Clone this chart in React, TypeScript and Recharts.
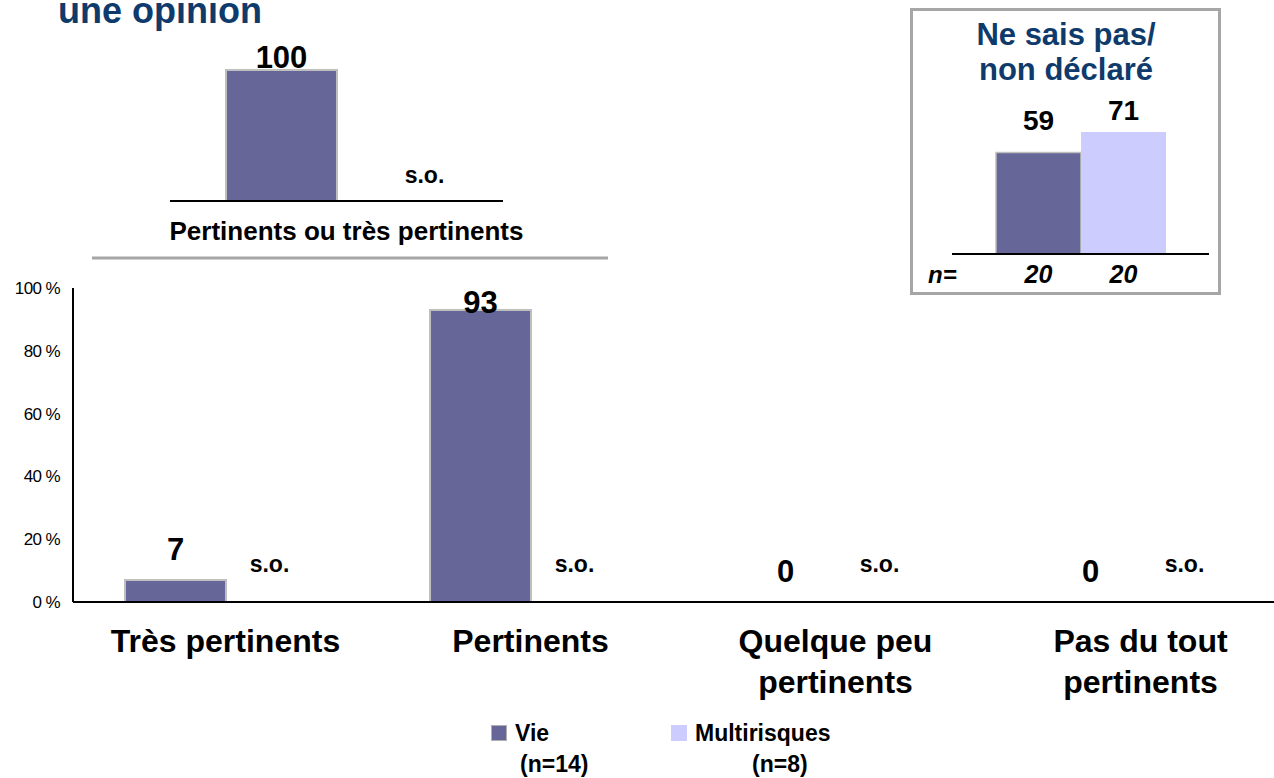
import React from "react";
import { BarChart, Bar, XAxis, YAxis, LabelList, Legend, Cell } from "recharts";

// main chart: share of respondents per rating
const categories = ["Très pertinents", "Pertinents", "Quelque peu pertinents", "Pas du tout pertinents"];
const vieValues = [7, 93, 0, 0];
const multiValues: (number | null)[] = [null, null, null, null]; // null = s.o.
const yTicks = [0, 20, 40, 60, 80, 100];

// small summary chart on top
const topCategory = ["Pertinents ou très pertinents"];
const topVie = [100];
const topMulti: (number | null)[] = [null];

// boxed "don't know" chart
const boxCategory = ["Ne sais pas/ non déclaré"];
const boxVie = [59];
const boxMulti = [71];
const boxN = [20, 20];

const seriesNames = ["Vie", "Multirisques"];
const seriesN = ["(n=14)", "(n=8)"];

const VIE = "#666699";
const MULTI = "#CCCCFF";
const NAVY = "#0f3b6c";
const GREY = "#a6a6a6";
const FONT = '"Liberation Sans", Arial, Helvetica, sans-serif';

const toRows = (cats: string[], vie: number[], multi: (number | null)[]) =>
  cats.map((name, i) => ({
    name,
    vie: vie[i],
    vieLabel: String(vie[i]),
    multi: multi[i] ?? 0,
    multiLabel: multi[i] == null ? "s.o." : String(multi[i]),
  }));

const mainData = toRows(categories, vieValues, multiValues);
const topData = toRows(topCategory, topVie, topMulti);
const boxData = boxCategory.map((name, i) => ({
  name,
  vie: boxVie[i],
  vieLabel: String(boxVie[i]),
  multi: boxMulti[i],
  multiLabel: String(boxMulti[i]),
  vieN: boxN[0],
  multiN: boxN[1],
}));

// value above a bar, pushed down when it would leave the plot
const valueLabel = (gap: number, floor: number, size: number, dx = 0, soGap = 0, soSize = 23) => (p: any) => {
  const x = Number(p.x);
  const y = Number(p.y);
  const w = Number(p.width);
  const h = Number(p.height);
  const v = String(p.value);
  const cx = x + w / 2;
  const base = y + h; // bottom of the bar = zero line
  if (v === "s.o.") {
    return (
      <text x={cx + dx} y={base - soGap} textAnchor="middle" fontFamily={FONT} fontWeight="bold" fontSize={soSize} fill="#000">
        {v}
      </text>
    );
  }
  const top = v === "0" ? base : y;
  return (
    <text x={cx} y={Math.max(top - gap, floor)} textAnchor="middle" fontFamily={FONT} fontWeight="bold" fontSize={size} fill="#000">
      {v}
    </text>
  );
};

const nLabel = (p: any) => {
  const x = Number(p.x);
  const y = Number(p.y);
  const w = Number(p.width);
  const h = Number(p.height);
  return (
    <text x={x + w / 2} y={y + h + 29} textAnchor="middle" fontFamily={FONT} fontWeight="bold" fontStyle="italic" fontSize={25} fill="#000">
      {p.value}
    </text>
  );
};

const CategoryTick = (p: any) => {
  const words = String(p.payload.value).split(" ");
  const lines = words.length > 2 ? [words.slice(0, -1).join(" "), words[words.length - 1]] : [words.join(" ")];
  return (
    <text x={p.x} y={Number(p.y) + 50} textAnchor="middle" fontFamily={FONT} fontWeight="bold" fontSize={32} fill="#000">
      {lines.map((l, i) => (
        <tspan key={i} x={p.x} dy={i === 0 ? 0 : 41}>
          {l}
        </tspan>
      ))}
    </text>
  );
};

const TopTick = (p: any) => (
  <text x={Number(p.x) + 10} y={Number(p.y) + 39} textAnchor="middle" fontFamily={FONT} fontWeight="bold" fontSize={26} fill="#000">
    {p.payload.value}
  </text>
);

const legendSpots: Record<string, { box: number; text: number; n: number; border: boolean }> = {
  Vie: { box: 491, text: 515, n: 520, border: true },
  Multirisques: { box: 671, text: 695, n: 752, border: false },
};

const LegendContent = (p: any) => {
  const items = (p.payload || []) as any[];
  return (
    <div style={{ position: "relative", width: 1300, height: 60, fontFamily: FONT, fontWeight: "bold", fontSize: 23, color: "#000" }}>
      {items.map((it, i) => {
        const s = legendSpots[it.value];
        if (!s) return null;
        const k = seriesNames.indexOf(it.value);
        return (
          <React.Fragment key={i}>
            <div
              style={{
                position: "absolute",
                left: s.box,
                top: 7,
                width: 16,
                height: 16,
                background: k === 0 ? VIE : MULTI,
                boxSizing: "border-box",
                border: s.border ? "1px solid #b0b0b0" : "none",
              }}
            />
            <div style={{ position: "absolute", left: s.text, top: 0, lineHeight: "30px", whiteSpace: "nowrap" }}>{it.value}</div>
            <div style={{ position: "absolute", left: s.n, top: 31, lineHeight: "30px", whiteSpace: "nowrap" }}>{seriesN[k]}</div>
          </React.Fragment>
        );
      })}
    </div>
  );
};

// zero / s.o. bars keep a 1px rect so their labels still get drawn, but stay invisible
const vieCells = (rows: { vie: number }[]) =>
  rows.map((r, i) => <Cell key={i} fill={r.vie === 0 ? "none" : VIE} stroke={r.vie === 0 ? "none" : "#bfbfbf"} />);
const multiCells = (rows: { multiLabel: string }[]) =>
  rows.map((r, i) => <Cell key={i} fill={r.multiLabel === "s.o." ? "none" : MULTI} />);

export default function App() {
  return (
    <div style={{ position: "absolute", left: 0, top: 0, width: 1274, height: 778, overflow: "hidden", background: "#fff" }}>
      {/* static decoration: title, separator, frame of the box */}
      <svg width={1274} height={778} style={{ position: "absolute", left: 0, top: 0 }}>
        <text x={58} y={23} fontFamily={FONT} fontWeight="bold" fontSize={36} fill={NAVY}>
          une opinion
        </text>
        <line x1={92} y1={258} x2={608} y2={258} stroke={GREY} strokeWidth={3} />
        <rect x={911.5} y={9.5} width={308} height={284} fill="#fff" stroke={GREY} strokeWidth={3} />
        <text x={1066} y={45} textAnchor="middle" fontFamily={FONT} fontWeight="bold" fontSize={31} fill={NAVY}>
          Ne sais pas/
        </text>
        <text x={1066} y={80} textAnchor="middle" fontFamily={FONT} fontWeight="bold" fontSize={31} fill={NAVY}>
          non déclaré
        </text>
        <text x={928} y={283} fontFamily={FONT} fontWeight="bold" fontStyle="italic" fontSize={24} fill="#000">
          n=
        </text>
      </svg>

      {/* top summary chart */}
      <div style={{ position: "absolute", left: 150, top: 0 }}>
        <BarChart width={380} height={260} data={topData} margin={{ top: 70, right: 27, bottom: 0, left: 20 }} barGap={0}>
          <XAxis
            dataKey="name"
            axisLine={{ stroke: "#000", strokeWidth: 2 }}
            tickLine={false}
            tickSize={0}
            tickMargin={0}
            height={59}
            interval={0}
            tick={<TopTick />}
          />
          <YAxis hide domain={[0, 100]} />
          <Bar dataKey="vie" name={seriesNames[0]} fill={VIE} stroke="#bfbfbf" strokeWidth={2} barSize={111} minPointSize={1} isAnimationActive={false}>
            {vieCells(topData)}
            <LabelList dataKey="vieLabel" content={valueLabel(21, 68, 31)} />
          </Bar>
          <Bar dataKey="multi" name={seriesNames[1]} fill={MULTI} barSize={111} minPointSize={1} isAnimationActive={false}>
            {multiCells(topData)}
            <LabelList dataKey="multiLabel" content={valueLabel(21, 68, 31, 32, 18)} />
          </Bar>
        </BarChart>
      </div>

      {/* boxed chart */}
      <div style={{ position: "absolute", left: 940, top: 0 }}>
        <BarChart width={280} height={300} data={boxData} margin={{ top: 82, right: 11, bottom: 0, left: 12 }} barGap={0}>
          <XAxis dataKey="name" axisLine={{ stroke: "#000", strokeWidth: 2 }} tickLine={false} tick={false} height={46} />
          <YAxis hide domain={[0, 100]} />
          <Bar dataKey="vie" name={seriesNames[0]} fill={VIE} stroke="#bfbfbf" strokeWidth={1.5} barSize={85} isAnimationActive={false}>
            <LabelList dataKey="vieLabel" content={valueLabel(23, 120, 28)} />
            <LabelList dataKey="vieN" content={nLabel} />
          </Bar>
          <Bar dataKey="multi" name={seriesNames[1]} fill={MULTI} barSize={85} isAnimationActive={false}>
            <LabelList dataKey="multiLabel" content={valueLabel(23, 120, 28)} />
            <LabelList dataKey="multiN" content={nLabel} />
          </Bar>
        </BarChart>
      </div>

      {/* main chart */}
      <div style={{ position: "absolute", left: 0, top: 260 }}>
        <BarChart width={1300} height={518} data={mainData} margin={{ top: 28, right: 7, bottom: 0, left: 0 }} barGap={0}>
          <XAxis
            dataKey="name"
            axisLine={{ stroke: "#000", strokeWidth: 2 }}
            tickLine={false}
            tickSize={0}
            tickMargin={0}
            height={116}
            interval={0}
            tick={<CategoryTick />}
          />
          <YAxis
            domain={[0, 100]}
            ticks={yTicks}
            tickFormatter={(v: number) => `${v} %`}
            width={73}
            axisLine={{ stroke: "#000", strokeWidth: 2 }}
            tickLine={false}
            tickSize={0}
            tickMargin={13}
            tick={{ fontSize: 17, fill: "#000", fontFamily: FONT, letterSpacing: -0.6 }}
          />
          <Legend verticalAlign="bottom" content={<LegendContent />} wrapperStyle={{ left: 0, bottom: 0, width: 1300, height: 60 }} />
          <Bar dataKey="vie" name={seriesNames[0]} fill={VIE} stroke="#bfbfbf" strokeWidth={2} barSize={101} minPointSize={1} isAnimationActive={false}>
            {vieCells(mainData)}
            <LabelList dataKey="vieLabel" content={valueLabel(20, 53, 31)} />
          </Bar>
          <Bar dataKey="multi" name={seriesNames[1]} fill={MULTI} barSize={101} minPointSize={1} isAnimationActive={false}>
            {multiCells(mainData)}
            <LabelList dataKey="multiLabel" content={valueLabel(20, 53, 31, -7, 30)} />
          </Bar>
        </BarChart>
      </div>
    </div>
  );
}
